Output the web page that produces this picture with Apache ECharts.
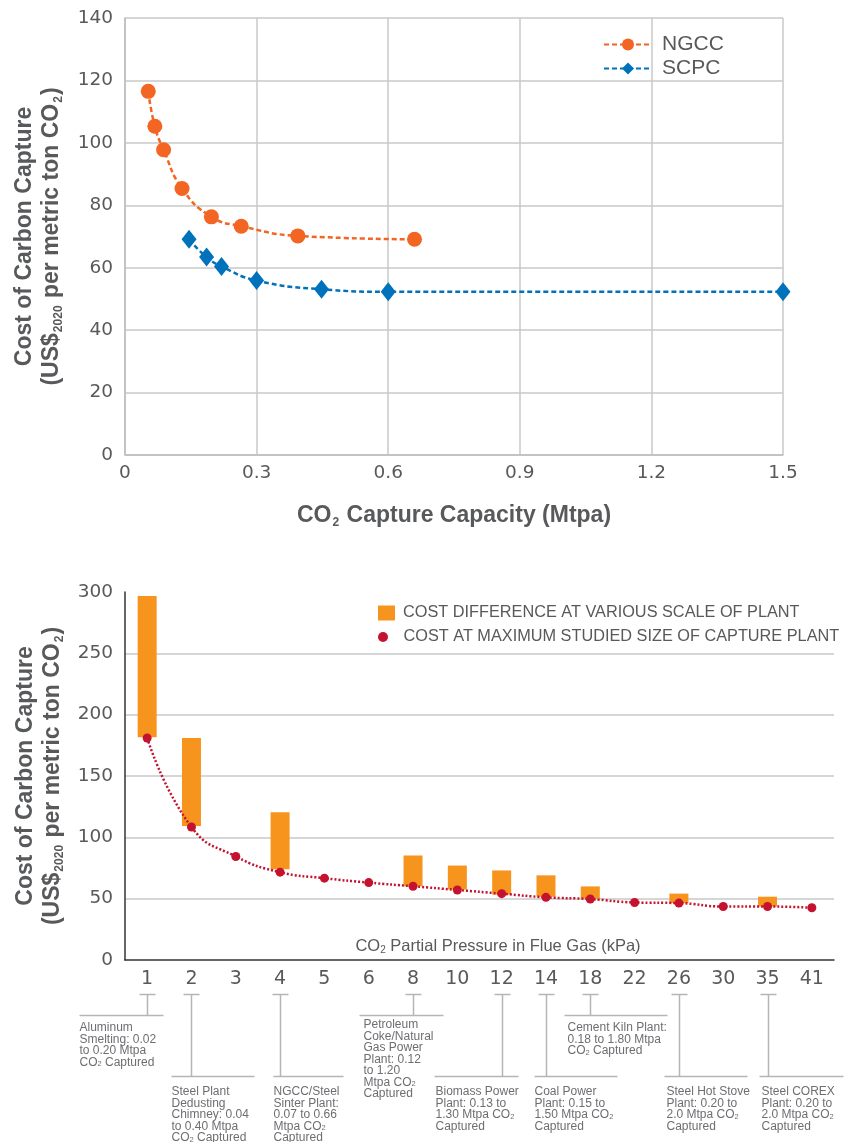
<!DOCTYPE html>
<html>
<head>
<meta charset="UTF-8">
<title>Cost of Carbon Capture</title>
<script src="https://cdn.jsdelivr.net/npm/echarts@6/dist/echarts.min.js"></script>
<style>
    html, body { margin: 0; padding: 0; background: #fff; }
    #main { width: 849px; height: 1142px; }
</style>
</head>
<body>
<div id="main"></div>
<script>
// --- top chart: cost vs capture capacity (Mtpa)
var ngccX = [0.053, 0.068, 0.088, 0.13, 0.197, 0.265, 0.394, 0.66];
var ngccY = [116.5, 105.3, 97.8, 85.4, 76.3, 73.3, 70.2, 69.1];
var scpcX = [0.146, 0.186, 0.22, 0.3, 0.448, 0.6, 1.5];
var scpcY = [69.1, 63.4, 60.4, 55.9, 53.1, 52.3, 52.3];

// --- bottom chart: cost vs CO2 partial pressure (kPa)
var pressureCats = ['1', '2', '3', '4', '5', '6', '8', '10', '12', '14', '18', '22', '26', '30', '35', '41'];
var maxSizeCost = [181, 108.4, 84.4, 71.6, 66.7, 63.1, 60.1, 57.1, 54.1, 51.1, 49.7, 46.9, 46.4, 43.6, 43.6, 42.6];
var rangeLow  = [181.5, 109.3, null, 74, null, null, 60.1, 57.4, 53.3, 51.6, 50, null, 46.4, null, 43.6, null];
var rangeHigh = [296.7, 181, null, 120.4, null, null, 85.2, 77, 73, 69, 60, null, 54.1, null, 51.6, null];

// callouts under the pressure axis
var calloutCats = ['1', '2', '4', '8', '12', '14', '18', '26', '35'];
var calloutText = [
    ['Aluminum', 'Smelting: 0.02', 'to 0.20 Mtpa', 'CO{s|2} Captured'],
    ['Steel Plant', 'Dedusting', 'Chimney: 0.04', 'to 0.40 Mtpa', 'CO{s|2} Captured'],
    ['NGCC/Steel', 'Sinter Plant:', '0.07 to 0.66', 'Mtpa CO{s|2}', 'Captured'],
    ['Petroleum', 'Coke/Natural', 'Gas Power', 'Plant: 0.12', 'to 1.20', 'Mtpa CO{s|2}', 'Captured'],
    ['Biomass Power', 'Plant: 0.13 to', '1.30 Mtpa CO{s|2}', 'Captured'],
    ['Coal Power', 'Plant: 0.15 to', '1.50 Mtpa CO{s|2}', 'Captured'],
    ['Cement Kiln Plant:', '0.18 to 1.80 Mtpa', 'CO{s|2} Captured'],
    ['Steel Hot Stove', 'Plant: 0.20 to', '2.0 Mtpa CO{s|2}', 'Captured'],
    ['Steel COREX', 'Plant: 0.20 to', '2.0 Mtpa CO{s|2}', 'Captured']
];
// layout only: which shelf the leader drops to, and how far the shelf reaches
var calloutLayout = [
    { low: false, l: -68, r: 16, tx: -68, ty: 1022 },
    { low: true,  l: -20, r: 63, tx: -20, ty: 1086 },
    { low: true,  l: -7,  r: 63, tx: -7,  ty: 1086 },
    { low: false, l: -54, r: 30, tx: -50, ty: 1019 },
    { low: true,  l: -68, r: 16, tx: -67, ty: 1086 },
    { low: true,  l: -12, r: 71, tx: -12, ty: 1086 },
    { low: false, l: -26, r: 77, tx: -23, ty: 1022 },
    { low: true,  l: -15, r: 68, tx: -13, ty: 1086 },
    { low: true,  l: -9,  r: 75, tx: -7,  ty: 1086 }
];

var FONT = '"Liberation Sans", Arial, sans-serif';
var TICK_FONT = '"DejaVu Sans", sans-serif';
var GREY = '#58595b';

function pairs(xs, ys) {
    return xs.map(function (x, i) { return [x, ys[i]]; });
}

function titleRich() {
    return {
        a: { fontFamily: FONT, fontSize: 23, fontWeight: 'bold', color: GREY, lineHeight: 27 },
        b: { fontFamily: FONT, fontSize: 12, fontWeight: 'bold', color: GREY, lineHeight: 12, verticalAlign: 'bottom', padding: [0, 1, 0, 1] }
    };
}

var chart = echarts.init(document.getElementById('main'), null, { renderer: 'canvas' });

var rangeDiff = rangeHigh.map(function (h, i) {
    return (h == null || rangeLow[i] == null) ? null : +(h - rangeLow[i]).toFixed(1);
});

var costTitle = '{a|Cost of Carbon Capture}\n{a|(US$}{b|2020}{a| per metric ton CO}{b|2}{a|)}';

var option = {
    animation: false,
    backgroundColor: '#fff',
    grid: [
        { left: 125, top: 18, width: 658, height: 437 },
        { left: 125, top: 592, width: 709, height: 368 }
    ],
    legend: [
        {
            data: ['NGCC', 'SCPC'],
            orient: 'vertical',
            left: 598, top: 29,
            itemWidth: 48, itemHeight: 15, itemGap: 3,
            selectedMode: false,
            textStyle: { fontFamily: FONT, fontSize: 21, color: GREY, padding: [0, 0, 0, 5] }
        },
        {
            data: [{ name: 'COST DIFFERENCE AT VARIOUS SCALE OF PLANT', icon: 'rect' }],
            left: 373, top: 600,
            itemWidth: 17, itemHeight: 15,
            selectedMode: false,
            textStyle: { fontFamily: FONT, fontSize: 16.3, color: GREY, padding: [0, 0, 0, 3] }
        },
        {
            data: [{ name: 'COST AT MAXIMUM STUDIED SIZE OF CAPTURE PLANT', icon: 'circle' }],
            left: 373, top: 624,
            itemWidth: 17, itemHeight: 10,
            selectedMode: false,
            textStyle: { fontFamily: FONT, fontSize: 16.3, color: GREY, padding: [0, 0, 0, 7] }
        }
    ],
    xAxis: [
        {
            type: 'value', gridIndex: 0,
            min: 0, max: 1.5, interval: 0.3,
            name: '{a|CO}{b|2}{a| Capture Capacity (Mtpa)}',
            nameLocation: 'middle', nameGap: 47,
            nameTextStyle: { rich: titleRich() },
            axisLine: { lineStyle: { color: '#bdbdbd', width: 1.5 } },
            axisTick: { show: false },
            axisLabel: {
                margin: 9, fontFamily: TICK_FONT, fontSize: 18.5, color: GREY,
                formatter: function (v) { return v === 0 ? '0' : v.toFixed(1); }
            },
            splitLine: { show: true, lineStyle: { color: '#c8c8c8', width: 1.5 } }
        },
        {
            type: 'category', gridIndex: 1,
            data: pressureCats,
            axisLine: { lineStyle: { color: '#333', width: 1.5 } },
            axisTick: { show: false },
            axisLabel: { margin: 10, fontFamily: TICK_FONT, fontSize: 19, color: GREY, interval: 0 }
        }
    ],
    yAxis: [
        {
            type: 'value', gridIndex: 0,
            min: 0, max: 140, interval: 20,
            name: costTitle,
            nameLocation: 'middle', nameRotate: 90, nameGap: 60,
            nameTextStyle: { rich: titleRich() },
            axisLine: { show: true, lineStyle: { color: '#bdbdbd', width: 1.5 } },
            axisTick: { show: false },
            axisLabel: { margin: 12, fontFamily: TICK_FONT, fontSize: 18.5, color: GREY },
            splitLine: { show: true, lineStyle: { color: '#c8c8c8', width: 1.5 } }
        },
        {
            type: 'value', gridIndex: 1,
            min: 0, max: 300, interval: 50,
            name: costTitle,
            nameLocation: 'middle', nameRotate: 90, nameGap: 59,
            nameTextStyle: { rich: titleRich() },
            axisLine: { show: true, lineStyle: { color: '#333', width: 1.5 } },
            axisTick: { show: false },
            axisLabel: { margin: 12, fontFamily: TICK_FONT, fontSize: 18.5, color: GREY },
            splitLine: { show: true, showMaxLine: false, showMinLine: false, lineStyle: { color: '#c8c8c8', width: 1.5 } }
        }
    ],
    series: [
        {
            name: 'NGCC', type: 'line',
            xAxisIndex: 0, yAxisIndex: 0,
            data: pairs(ngccX, ngccY),
            smooth: 0.5,
            symbol: 'circle', symbolSize: 15,
            itemStyle: { color: '#f26522' },
            lineStyle: { color: '#f26522', width: 2.5, type: [5, 3] }
        },
        {
            name: 'SCPC', type: 'line',
            xAxisIndex: 0, yAxisIndex: 0,
            data: pairs(scpcX, scpcY),
            smooth: 0.5,
            symbol: 'diamond', symbolSize: [15, 19],
            itemStyle: { color: '#0072bc' },
            lineStyle: { color: '#0072bc', width: 2.5, type: [5, 3] }
        },
        {
            name: 'base', type: 'bar',
            xAxisIndex: 1, yAxisIndex: 1,
            stack: 'range', barWidth: 19,
            data: rangeLow,
            silent: true,
            itemStyle: { color: 'rgba(0,0,0,0)' }
        },
        {
            name: 'COST DIFFERENCE AT VARIOUS SCALE OF PLANT', type: 'bar',
            xAxisIndex: 1, yAxisIndex: 1,
            stack: 'range', barWidth: 19,
            data: rangeDiff,
            itemStyle: { color: '#f7941d' }
        },
        {
            name: 'COST AT MAXIMUM STUDIED SIZE OF CAPTURE PLANT', type: 'line',
            xAxisIndex: 1, yAxisIndex: 1,
            data: maxSizeCost,
            smooth: 0.5, z: 5,
            symbol: 'circle', symbolSize: 9,
            itemStyle: { color: '#c4122f' },
            lineStyle: { color: '#c4122f', width: 2.5, type: [2, 2] }
        }
    ]
};

chart.setOption(option);

// axis caption sitting inside the bottom plot, just above the category axis
var graphics = [{
    type: 'text',
    x: 498, y: 946,
    style: {
        text: 'CO{s|2} Partial Pressure in Flue Gas (kPa)',
        fill: GREY, fontFamily: FONT, fontSize: 16.5, lineHeight: 18,
        align: 'center', verticalAlign: 'middle',
        rich: { s: { fontFamily: FONT, fontSize: 10, lineHeight: 10, fill: GREY, verticalAlign: 'bottom' } }
    }
}];

// leader lines and notes, placed on the category centres
var leader = { stroke: '#b5b5b5', lineWidth: 1.5 };
calloutCats.forEach(function (cat, i) {
    var x = Math.round(chart.convertToPixel({ xAxisIndex: 1 }, pressureCats.indexOf(cat))) + 0.5;
    var lay = calloutLayout[i];
    var shelfY = lay.low ? 1076.5 : 1015.5;
    graphics.push({ type: 'line', shape: { x1: x - 8, y1: 994.5, x2: x + 8, y2: 994.5 }, style: leader });
    graphics.push({ type: 'line', shape: { x1: x, y1: 994.5, x2: x, y2: shelfY }, style: leader });
    graphics.push({ type: 'line', shape: { x1: x + lay.l, y1: shelfY, x2: x + lay.r, y2: shelfY }, style: leader });
    graphics.push({
        type: 'text',
        x: x + lay.tx, y: lay.ty,
        style: {
            text: calloutText[i].join('\n'),
            fill: '#6d6e71',
            fontFamily: FONT, fontSize: 12, lineHeight: 11.5,
            verticalAlign: 'top', align: 'left',
            rich: { s: { fontFamily: FONT, fontSize: 7.5, lineHeight: 8, fill: '#6d6e71', verticalAlign: 'bottom' } }
        }
    });
});
chart.setOption({ graphic: graphics });
</script>
</body>
</html>
